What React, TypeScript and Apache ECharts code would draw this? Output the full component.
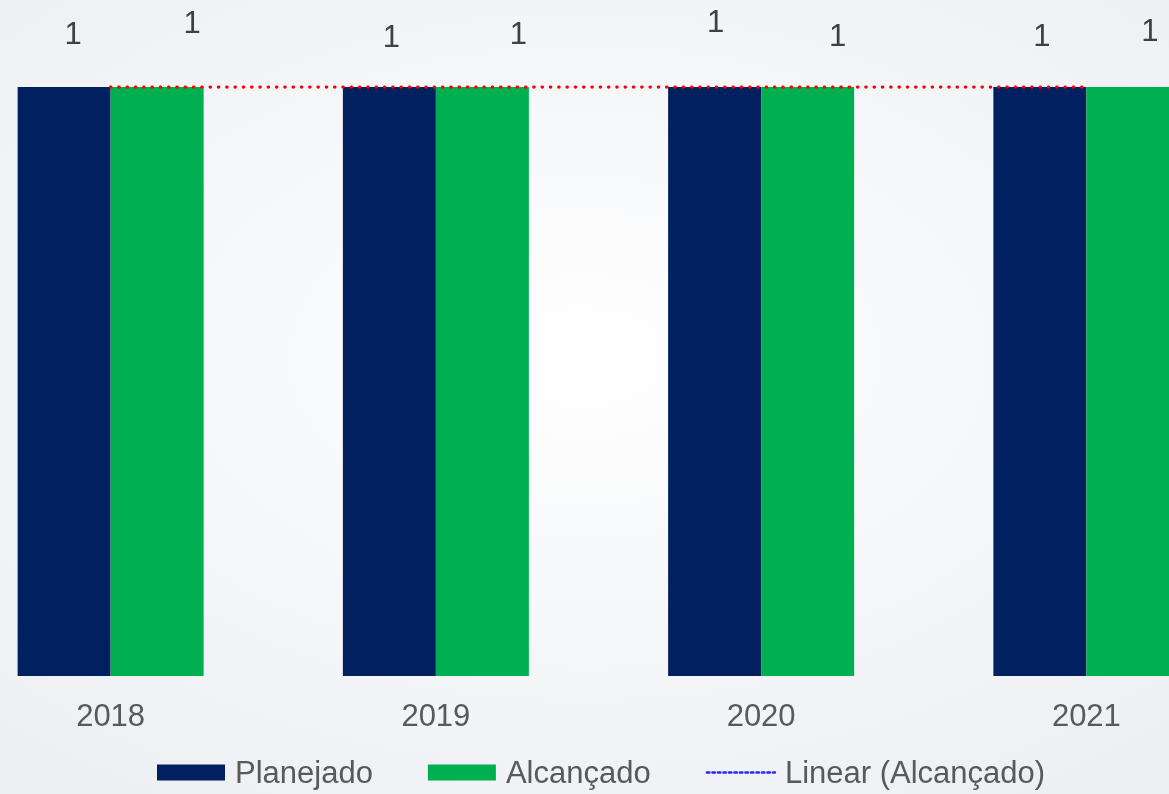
import React, { useEffect, useRef } from "react";
import * as echarts from "echarts";

const categories = ["2018", "2019", "2020", "2021"];
const planejado = [1, 1, 1, 1];
const alcancado = [1, 1, 1, 1];
const trendAlcancado = [1, 1, 1, 1];

// label placement tweaks (styling only)
const planOffsets: [number, number][] = [[9, -38], [2, -35], [1, -50], [2, -36]];
const alcOffsets: [number, number][] = [[35, -49], [36, -38], [30, -36], [17, -41]];

const SHIFT = 52; // chart canvas extends beyond the left edge of the page
const WIDTH = 1301;

export default function App() {
  const ref = useRef<HTMLDivElement>(null);
  useEffect(() => {
    if (!ref.current) return;
    const chart = echarts.init(ref.current, null, { renderer: "svg" });
    const font = "'Liberation Sans', Arial, sans-serif";
    chart.setOption({
      animation: false,
      backgroundColor: {
        type: "radial",
        x: (584 + SHIFT) / WIDTH,
        y: 0.45,
        r: 0.7,
        colorStops: [
          { offset: 0, color: "#ffffff" },
          { offset: 1, color: "#eceef2" },
        ],
      },
      grid: { left: 0, right: 0, top: 87, bottom: 118, containLabel: false },
      xAxis: {
        type: "category",
        data: categories,
        axisLine: { show: false },
        axisTick: { show: false },
        axisLabel: { fontSize: 31, color: "#595959", fontFamily: font, margin: 24 },
      },
      yAxis: { type: "value", min: 0, max: 1, show: false, splitLine: { show: false } },
      legend: {
        left: 157 + SHIFT,
        top: 757,
        padding: 0,
        itemGap: 55,
        itemWidth: 68,
        itemHeight: 16,
        textStyle: { fontSize: 31, color: "#595959", fontFamily: font, padding: [0, 0, 0, 5] },
        data: [
          { name: "Planejado", icon: "rect" },
          { name: "Alcançado", icon: "rect" },
          {
            name: "Linear (Alcançado)",
            itemStyle: { opacity: 0 },
            lineStyle: { color: "#2b2bf0", width: 2.5, type: [2.5, 3] },
          },
        ],
      },
      series: [
        {
          name: "Planejado",
          type: "bar",
          barWidth: 93,
          barGap: "0%",
          itemStyle: { color: "#002060" },
          label: {
            show: true,
            position: "top",
            distance: 0,
            fontSize: 31,
            color: "#404040",
            fontFamily: font,
          },
          data: planejado.map((v, i) => ({ value: v, label: { offset: planOffsets[i] } })),
        },
        {
          name: "Alcançado",
          type: "bar",
          barWidth: 93,
          barGap: "0%",
          itemStyle: { color: "#00b050" },
          label: {
            show: true,
            position: "top",
            distance: 0,
            fontSize: 31,
            color: "#404040",
            fontFamily: font,
          },
          data: alcancado.map((v, i) => ({ value: v, label: { offset: alcOffsets[i] } })),
        },
        {
          name: "Linear (Alcançado)",
          type: "line",
          symbol: "none",
          z: 5,
          lineStyle: { color: "#ff0000", width: 3.5, type: [0.1, 8.2], cap: "round" },
          data: trendAlcancado,
        },
      ],
    });
    return () => chart.dispose();
  }, []);
  return (
    <div style={{ position: "fixed", left: 0, top: 0, width: 1169, height: 794, overflow: "hidden" }}>
      <div
        ref={ref}
        style={{ position: "absolute", left: -SHIFT, top: 0, width: WIDTH, height: 794 }}
      />
    </div>
  );
}
